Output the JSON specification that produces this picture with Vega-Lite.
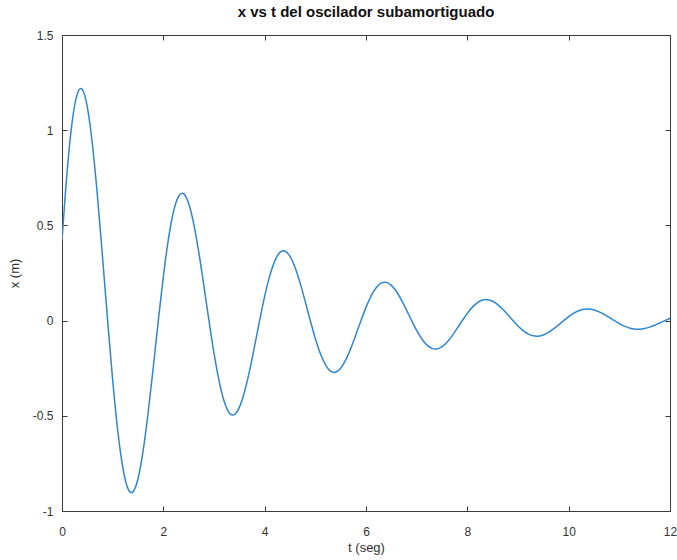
{
  "$schema": "https://vega.github.io/schema/vega-lite/v6.json",
  "width": 608,
  "height": 476,
  "autosize": {"type": "none"},
  "padding": {"left": 62, "top": 35, "right": 7, "bottom": 49},
  "background": "white",
  "title": {"text": "x vs t del oscilador subamortiguado", "font": "Liberation Sans", "fontSize": 15, "fontWeight": "bold", "color": "#111111", "anchor": "middle", "offset": 9},
  "config": {
    "view": {"stroke": null},
    "axis": {"grid": false, "labelFlush": false, "domainColor": "#3a3a3a", "domainWidth": 1, "tickColor": "#3a3a3a", "tickWidth": 1, "labelFont": "Liberation Sans", "labelFontSize": 12, "labelColor": "#333333", "titleFont": "Liberation Sans", "titleFontSize": 13, "titleFontWeight": "normal", "titleColor": "#333333"}
  },
  "data": {"values": [
    {"t": 0, "x": 0.4212}, {"t": 0.1, "x": 0.7794}, {"t": 0.2, "x": 1.042}, {"t": 0.3, "x": 1.1895}, {"t": 0.37, "x": 1.2195}, {"t": 0.4, "x": 1.2142}, {"t": 0.5, "x": 1.1212}, {"t": 0.6, "x": 0.926}, {"t": 0.7, "x": 0.6535}, {"t": 0.8, "x": 0.3342}, {"t": 0.9, "x": 0.0015},
    {"t": 1.0, "x": -0.3121}, {"t": 1.1, "x": -0.5774}, {"t": 1.2, "x": -0.7719}, {"t": 1.3, "x": -0.8812}, {"t": 1.37, "x": -0.9034}, {"t": 1.4, "x": -0.8995}, {"t": 1.5, "x": -0.8306}, {"t": 1.6, "x": -0.686}, {"t": 1.7, "x": -0.4841}, {"t": 1.8, "x": -0.2476}, {"t": 1.9, "x": -0.0011},
    {"t": 2.0, "x": 0.2312}, {"t": 2.1, "x": 0.4277}, {"t": 2.2, "x": 0.5719}, {"t": 2.3, "x": 0.6528}, {"t": 2.37, "x": 0.6693}, {"t": 2.4, "x": 0.6664}, {"t": 2.5, "x": 0.6153}, {"t": 2.6, "x": 0.5082}, {"t": 2.7, "x": 0.3586}, {"t": 2.8, "x": 0.1834}, {"t": 2.9, "x": 0.0008},
    {"t": 3.0, "x": -0.1713}, {"t": 3.1, "x": -0.3169}, {"t": 3.2, "x": -0.4236}, {"t": 3.3, "x": -0.4836}, {"t": 3.37, "x": -0.4958}, {"t": 3.4, "x": -0.4937}, {"t": 3.5, "x": -0.4558}, {"t": 3.6, "x": -0.3765}, {"t": 3.7, "x": -0.2657}, {"t": 3.8, "x": -0.1359}, {"t": 3.9, "x": -0.0006},
    {"t": 4.0, "x": 0.1269}, {"t": 4.1, "x": 0.2347}, {"t": 4.2, "x": 0.3139}, {"t": 4.3, "x": 0.3583}, {"t": 4.37, "x": 0.3673}, {"t": 4.4, "x": 0.3657}, {"t": 4.5, "x": 0.3377}, {"t": 4.6, "x": 0.2789}, {"t": 4.7, "x": 0.1968}, {"t": 4.8, "x": 0.1007}, {"t": 4.9, "x": 0.0004},
    {"t": 5.0, "x": -0.094}, {"t": 5.1, "x": -0.1739}, {"t": 5.2, "x": -0.2325}, {"t": 5.3, "x": -0.2654}, {"t": 5.37, "x": -0.2721}, {"t": 5.4, "x": -0.2709}, {"t": 5.5, "x": -0.2501}, {"t": 5.6, "x": -0.2066}, {"t": 5.7, "x": -0.1458}, {"t": 5.8, "x": -0.0746}, {"t": 5.9, "x": -0.0003},
    {"t": 6.0, "x": 0.0696}, {"t": 6.1, "x": 0.1288}, {"t": 6.2, "x": 0.1723}, {"t": 6.3, "x": 0.1966}, {"t": 6.37, "x": 0.2016}, {"t": 6.4, "x": 0.2007}, {"t": 6.5, "x": 0.1853}, {"t": 6.6, "x": 0.1531}, {"t": 6.7, "x": 0.108}, {"t": 6.8, "x": 0.0553}, {"t": 6.9, "x": 0.0002},
    {"t": 7.0, "x": -0.0516}, {"t": 7.1, "x": -0.0954}, {"t": 7.2, "x": -0.1276}, {"t": 7.3, "x": -0.1457}, {"t": 7.37, "x": -0.1493}, {"t": 7.4, "x": -0.1487}, {"t": 7.5, "x": -0.1373}, {"t": 7.6, "x": -0.1134}, {"t": 7.7, "x": -0.08}, {"t": 7.8, "x": -0.0409}, {"t": 7.9, "x": -0.0002},
    {"t": 8.0, "x": 0.0382}, {"t": 8.1, "x": 0.0707}, {"t": 8.2, "x": 0.0946}, {"t": 8.3, "x": 0.1079}, {"t": 8.37, "x": 0.1106}, {"t": 8.4, "x": 0.1101}, {"t": 8.5, "x": 0.1017}, {"t": 8.6, "x": 0.084}, {"t": 8.7, "x": 0.0593}, {"t": 8.8, "x": 0.0303}, {"t": 8.9, "x": 0.0001},
    {"t": 9.0, "x": -0.0283}, {"t": 9.1, "x": -0.0524}, {"t": 9.2, "x": -0.07}, {"t": 9.3, "x": -0.08}, {"t": 9.37, "x": -0.082}, {"t": 9.4, "x": -0.0816}, {"t": 9.5, "x": -0.0753}, {"t": 9.6, "x": -0.0622}, {"t": 9.7, "x": -0.0439}, {"t": 9.8, "x": -0.0225}, {"t": 9.9, "x": -0.0001},
    {"t": 10.0, "x": 0.021}, {"t": 10.1, "x": 0.0388}, {"t": 10.2, "x": 0.0519}, {"t": 10.3, "x": 0.0592}, {"t": 10.37, "x": 0.0607}, {"t": 10.4, "x": 0.0604}, {"t": 10.5, "x": 0.0558}, {"t": 10.6, "x": 0.0461}, {"t": 10.7, "x": 0.0325}, {"t": 10.8, "x": 0.0166}, {"t": 10.9, "x": 0.0001},
    {"t": 11.0, "x": -0.0155}, {"t": 11.1, "x": -0.0288}, {"t": 11.2, "x": -0.0384}, {"t": 11.3, "x": -0.0439}, {"t": 11.37, "x": -0.045}, {"t": 11.4, "x": -0.0448}, {"t": 11.5, "x": -0.0413}, {"t": 11.6, "x": -0.0341}, {"t": 11.7, "x": -0.0241}, {"t": 11.8, "x": -0.0123}, {"t": 11.9, "x": 0.0}, {"t": 12.0, "x": 0.0115}
  ]},
  "layer": [
    {
      "mark": {"type": "line", "opacity": 0},
      "encoding": {
        "x": {"field": "t", "type": "quantitative", "scale": {"domain": [0, 12], "nice": false, "zero": false}, "axis": {"orient": "top", "values": [0, 2, 4, 6, 8, 10, 12], "labels": false, "title": null, "tickSize": -5}},
        "y": {"field": "x", "type": "quantitative", "scale": {"domain": [-1, 1.5], "nice": false, "zero": false}, "axis": {"orient": "right", "values": [-1, -0.5, 0, 0.5, 1, 1.5], "labels": false, "title": null, "tickSize": -5}}
      }
    },
    {
      "mark": {"type": "line", "color": "#2f86cf", "strokeWidth": 1.5, "interpolate": "monotone", "clip": true},
      "encoding": {
        "x": {"field": "t", "type": "quantitative", "scale": {"domain": [0, 12], "nice": false, "zero": false}, "axis": {"orient": "bottom", "values": [0, 2, 4, 6, 8, 10, 12], "title": "t (seg)", "tickSize": -5, "labelPadding": 20, "titlePadding": 4, "labelExpr": "datum.value < 0 ? '-' + format(-datum.value, '~g') : format(datum.value, '~g')"}},
        "y": {"field": "x", "type": "quantitative", "scale": {"domain": [-1, 1.5], "nice": false, "zero": false}, "axis": {"orient": "left", "values": [-1, -0.5, 0, 0.5, 1, 1.5], "title": "x (m)", "tickSize": -5, "labelPadding": 14, "titlePadding": 11, "labelExpr": "datum.value < 0 ? '-' + format(-datum.value, '~g') : format(datum.value, '~g')"}}
      }
    }
  ],
  "resolve": {"axis": {"x": "independent", "y": "independent"}}
}
